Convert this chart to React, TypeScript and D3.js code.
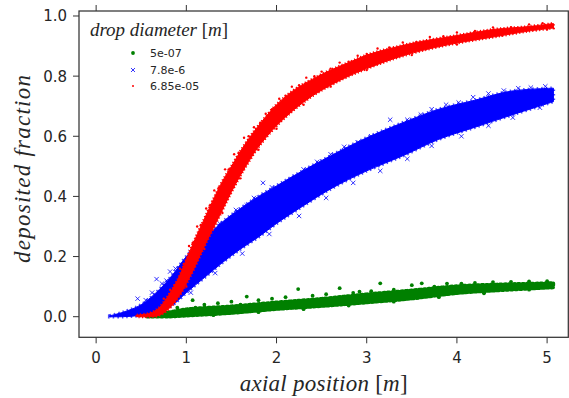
import React from "react";
import * as d3 from "d3";

// ---------- data ----------
const xTicks = [0, 1, 2, 3, 4, 5];
const yTicks = [0.0, 0.2, 0.4, 0.6, 0.8, 1.0];
const seriesLabels = ["5e-07", "7.8e-6", "6.85e-05"];
const legendTitle = "drop diameter";
const xLabel = "axial position";
const yLabel = "deposited fraction";

// dense cloud envelopes (lower / upper edge of each band)
const greenX = [0.55, 0.8, 1.0, 1.5, 2.0, 2.5, 3.0, 3.5, 4.0, 4.5, 5.07];
const greenLo = [0, 0, 0.003, 0.012, 0.025, 0.035, 0.047, 0.06, 0.078, 0.088, 0.097];
const greenHi = [0.005, 0.015, 0.025, 0.035, 0.048, 0.06, 0.075, 0.088, 0.102, 0.108, 0.112];

const blueX = [0.15, 0.3, 0.5, 0.7, 0.85, 1.0, 1.2, 1.4, 1.6, 1.8, 2.0, 2.2, 2.6, 3.0, 3.4, 3.8, 4.2, 4.6, 5.07];
const blueLo = [0, 0, 0.005, 0.02, 0.04, 0.08, 0.13, 0.18, 0.225, 0.265, 0.31, 0.35, 0.425, 0.485, 0.535, 0.59, 0.63, 0.67, 0.715];
const blueHi = [0.003, 0.015, 0.04, 0.09, 0.14, 0.2, 0.26, 0.315, 0.36, 0.4, 0.435, 0.47, 0.535, 0.595, 0.645, 0.69, 0.72, 0.75, 0.76];

const redX = [0.45, 0.6, 0.7, 0.8, 0.9, 1.0, 1.1, 1.2, 1.3, 1.4, 1.5, 1.6, 1.7, 1.8, 2.0, 2.2, 2.4, 2.6, 2.8, 3.0, 3.3, 3.6, 4.0, 4.4, 4.8, 5.07];
const redLo = [0, 0, 0.005, 0.025, 0.06, 0.11, 0.17, 0.235, 0.295, 0.355, 0.415, 0.47, 0.52, 0.565, 0.635, 0.69, 0.735, 0.77, 0.8, 0.825, 0.858, 0.884, 0.91, 0.93, 0.95, 0.96];
const redHi = [0.005, 0.012, 0.03, 0.07, 0.12, 0.19, 0.26, 0.325, 0.39, 0.45, 0.5, 0.55, 0.595, 0.635, 0.705, 0.755, 0.79, 0.82, 0.845, 0.87, 0.895, 0.915, 0.935, 0.955, 0.965, 0.975];

// individual points visible at the edges of the clouds
const greenPts: [number, number][] = [
  [0.72, 0.012], [0.82, 0.045], [0.9, 0.03], [1.07, 0.055], [1.2, 0.04], [1.35, 0.045], [1.5, 0.05],
  [1.67, 0.067], [1.8, 0.055], [1.95, 0.06], [2.1, 0.065], [2.24, 0.092], [2.4, 0.07], [2.55, 0.075],
  [2.7, 0.095], [2.85, 0.079], [2.92, 0.083], [3.05, 0.085], [3.15, 0.111], [3.3, 0.09], [3.5, 0.105],
  [3.61, 0.111], [3.75, 0.1], [3.89, 0.11], [4.05, 0.11], [4.2, 0.112], [4.4, 0.115], [4.6, 0.116],
  [4.8, 0.117], [5.0, 0.118], [1.3, 0.005], [1.8, 0.015], [2.3, 0.025], [2.8, 0.037], [3.3, 0.05],
  [3.8, 0.065], [4.3, 0.078], [4.8, 0.09], [0.62, 0.008], [1.1, 0.03], [1.6, 0.04],
];
const bluePts: [number, number][] = [
  [0.46, 0.06], [0.55, 0.055], [0.62, 0.08], [0.67, 0.125], [0.73, 0.11], [0.78, 0.12], [0.82, 0.15],
  [0.88, 0.16], [0.96, 0.165], [1.05, 0.215], [1.15, 0.245], [1.25, 0.28], [1.35, 0.265],
  [1.37, 0.31], [1.55, 0.355], [1.67, 0.37], [1.75, 0.395], [1.85, 0.445], [1.95, 0.43], [2.02, 0.42],
  [2.11, 0.44], [2.3, 0.49], [2.45, 0.515], [2.6, 0.54], [2.75, 0.565], [2.9, 0.58], [3.05, 0.6],
  [3.26, 0.655], [3.45, 0.655], [3.6, 0.672], [3.72, 0.69], [3.88, 0.705], [4.02, 0.712], [4.18, 0.73],
  [4.35, 0.742], [4.52, 0.752], [4.68, 0.76], [4.82, 0.762], [4.98, 0.766],
  [1.05, 0.08], [1.32, 0.145], [1.62, 0.21], [1.92, 0.275], [2.25, 0.335], [2.55, 0.395], [2.85, 0.445],
  [3.15, 0.485], [3.45, 0.525], [3.72, 0.568], [4.05, 0.6], [4.35, 0.635], [4.62, 0.662], [4.92, 0.695],
];
const redPts: [number, number][] = [
  [0.75, 0.06], [0.82, 0.09], [0.87, 0.105], [0.93, 0.16], [0.97, 0.175], [1.03, 0.235], [1.07, 0.245],
  [1.12, 0.3], [1.16, 0.305], [1.22, 0.36], [1.26, 0.37], [1.31, 0.42], [1.36, 0.43], [1.43, 0.49],
  [1.47, 0.49], [1.53, 0.54], [1.58, 0.545], [1.64, 0.595], [1.69, 0.6], [1.75, 0.63], [1.82, 0.645],
  [1.88, 0.675], [1.95, 0.69], [2.03, 0.725], [2.1, 0.735], [2.17, 0.765], [2.25, 0.77], [2.33, 0.795],
  [2.42, 0.8], [2.5, 0.815], [2.6, 0.825], [2.7, 0.845], [2.8, 0.848], [2.9, 0.868], [3.0, 0.874],
  [3.12, 0.892], [3.25, 0.895], [3.4, 0.912], [3.55, 0.914], [3.7, 0.93], [3.85, 0.933], [4.0, 0.945],
  [4.2, 0.95], [4.4, 0.962], [4.6, 0.963], [4.8, 0.972], [4.95, 0.976],
  [1.0, 0.1], [1.2, 0.225], [1.4, 0.345], [1.6, 0.46], [1.8, 0.555], [2.0, 0.625], [2.3, 0.705],
  [2.6, 0.765], [3.0, 0.82], [3.5, 0.87], [4.0, 0.905], [4.5, 0.935], [5.0, 0.955],
];

const GREEN = "#008000";
const BLUE = "#0000ff";
const RED = "#ff0000";
const AXIS = "#333333";
const TEXT = "#262626";

export default function App() {
  const W = 569;
  const H = 398;
  const x = d3.scaleLinear().domain([-0.19, 5.235]).range([79, 568.3]);
  const y = d3.scaleLinear().domain([-0.0685, 1.0166]).range([337.3, 11]);
  const [x0, x1] = x.range();
  const [yb, yt] = y.range();

  const band = (xs: number[], lo: number[], hi: number[]) =>
    d3
      .area<number>()
      .x((_, i) => x(xs[i]))
      .y0((_, i) => y(lo[i]))
      .y1((_, i) => y(hi[i]))
      .curve(d3.curveCatmullRom.alpha(0.5))(xs.map((_, i) => i)) || "";

  const sans = "'DejaVu Sans', sans-serif";
  const serif = "'Liberation Serif', 'DejaVu Serif', serif";

  const xMark = (cx: number, cy: number, s: number, key: string, w = 0.8) => (
    <path
      key={key}
      d={`M${cx - s},${cy - s}L${cx + s},${cy + s}M${cx - s},${cy + s}L${cx + s},${cy - s}`}
      stroke={BLUE}
      strokeWidth={w}
      fill="none"
    />
  );

  const gPath = band(greenX, greenLo, greenHi);
  const bPath = band(blueX, blueLo, blueHi);
  const rPath = band(redX, redLo, redHi);

  return (
    <svg
      width={W}
      height={H}
      style={{ position: "absolute", left: 0, top: 0, background: "#fff" }}
    >
      <rect x={0} y={0} width={W} height={H} fill="#fff" />
      <defs>
        <clipPath id="plotclip">
          <rect x={x0} y={yt} width={x1 - x0} height={yb - yt} />
        </clipPath>
      </defs>
      <g clipPath="url(#plotclip)">
        {/* green */}
        <path d={gPath} fill={GREEN} stroke={GREEN} strokeWidth={1.5} />
        <path d={gPath} fill="none" stroke={GREEN} strokeWidth={3.5} strokeDasharray="2 2.5" strokeLinecap="round" />
        {greenPts.map((p, i) => (
          <circle key={"g" + i} cx={x(p[0])} cy={y(p[1])} r={1.9} fill={GREEN} />
        ))}
        {/* blue */}
        <path d={bPath} fill={BLUE} stroke={BLUE} strokeWidth={1} />
        <path d={bPath} fill="none" stroke={BLUE} strokeWidth={3.5} strokeDasharray="1.5 3" strokeOpacity={0.7} />
        {bluePts.map((p, i) => xMark(x(p[0]), y(p[1]), 2.2, "b" + i))}
        {/* red */}
        <path d={rPath} fill={RED} stroke={RED} strokeWidth={1} />
        <path d={rPath} fill="none" stroke={RED} strokeWidth={3} strokeDasharray="1.2 2.2" />
        {redPts.map((p, i) => (
          <circle key={"r" + i} cx={x(p[0])} cy={y(p[1])} r={1.2} fill={RED} />
        ))}
      </g>

      {/* frame */}
      <rect x={x0} y={yt} width={x1 - x0} height={yb - yt} fill="none" stroke={AXIS} strokeWidth={1.25} />

      {/* x ticks */}
      {xTicks.map((t) => (
        <g key={"xt" + t}>
          <line x1={x(t)} x2={x(t)} y1={yb} y2={yb + 6} stroke={AXIS} strokeWidth={1} />
          <line x1={x(t)} x2={x(t)} y1={yt} y2={yt - 6} stroke={AXIS} strokeWidth={1} />
          <text x={x(t)} y={363} textAnchor="middle" fontFamily={sans} fontSize={15} fill={TEXT}>
            {d3.format("d")(t)}
          </text>
        </g>
      ))}
      {/* y ticks */}
      {yTicks.map((t) => (
        <g key={"yt" + t}>
          <line x1={x0} x2={x0 - 6} y1={y(t)} y2={y(t)} stroke={AXIS} strokeWidth={1} />
          <text x={67} y={y(t)} dy="0.36em" textAnchor="end" fontFamily={sans} fontSize={15} fill={TEXT}>
            {d3.format(".1f")(t)}
          </text>
        </g>
      ))}

      {/* axis labels */}
      <text
        x={(x0 + x1) / 2}
        y={391}
        textAnchor="middle"
        fontFamily={serif}
        fontSize={23}
        fill={TEXT}
        textLength={168}
        lengthAdjust="spacing"
      >
        <tspan fontStyle="italic">{xLabel}</tspan>
        <tspan> [</tspan>
        <tspan fontStyle="italic">m</tspan>
        <tspan>]</tspan>
      </text>
      <text
        transform={`translate(30,169) rotate(-90)`}
        textAnchor="middle"
        fontFamily={serif}
        fontSize={23}
        fontStyle="italic"
        fill={TEXT}
        textLength={188}
        lengthAdjust="spacing"
      >
        {yLabel}
      </text>

      {/* legend */}
      <text x={90} y={36} fontFamily={serif} fontSize={19} fill={TEXT} textLength={138} lengthAdjust="spacing">
        <tspan fontStyle="italic">{legendTitle}</tspan>
        <tspan> [</tspan>
        <tspan fontStyle="italic">m</tspan>
        <tspan>]</tspan>
      </text>
      <circle cx={133} cy={53} r={1.9} fill={GREEN} />
      {xMark(133, 70, 2, "legb", 0.8)}
      <circle cx={133} cy={86} r={1} fill={RED} />
      {seriesLabels.map((s, i) => (
        <text key={s} x={150} y={57 + i * 16.5} fontFamily={sans} fontSize={11} fill={TEXT}>
          {s}
        </text>
      ))}
    </svg>
  );
}
